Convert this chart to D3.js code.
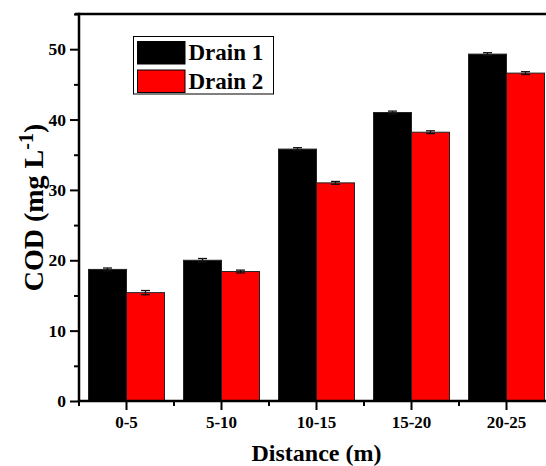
<!DOCTYPE html>
<html><head><meta charset="utf-8">
<script src="https://cdn.jsdelivr.net/npm/d3@7"></script>
<style>
html,body{margin:0;padding:0;background:#fff;overflow:hidden;}
text{font-family:"Liberation Serif","Times New Roman",serif;font-weight:bold;fill:#000;}
</style></head>
<body><svg id="c" width="546" height="466"></svg>
<script>
const categories = ["0-5","5-10","10-15","15-20","20-25"];
const seriesNames = ["Drain 1","Drain 2"];
const drain1 = [18.7, 20.0, 35.8, 41.0, 49.3];
const drain2 = [15.4, 18.4, 31.0, 38.2, 46.6];
const err1 = [0.2, 0.25, 0.2, 0.2, 0.2];
const err2 = [0.3, 0.2, 0.2, 0.2, 0.2];
const yMajorTicks = [0,10,20,30,40,50];
const yMinorTicks = [5,15,25,35,45,55];
const colors = ["#000000","#ff0000"];

const svg = d3.select("#c");
const L = 79, R = 554, T = 14, B = 401;
const x = d3.scaleBand().domain(categories).range([L,R]).paddingInner(0.2).paddingOuter(0.1);
const xs = d3.scaleBand().domain(seriesNames).range([0,x.bandwidth()]);
const y = d3.scaleLinear().domain([0,55]).range([B,T]);
const vals = [drain1, drain2], errs = [err1, err2];

const data = [];
categories.forEach((c,i)=>seriesNames.forEach((s,j)=>data.push({c,s,j,v:vals[j][i],e:errs[j][i]})));

svg.append("g").selectAll("rect").data(data).join("rect")
  .attr("x",d=>x(d.c)+xs(d.s)).attr("width",xs.bandwidth())
  .attr("y",d=>y(d.v)).attr("height",d=>B-y(d.v))
  .attr("fill",d=>colors[d.j]).attr("stroke","#222").attr("stroke-width",1);

const eg = svg.append("g").attr("stroke","#111").attr("stroke-width",1.3);
data.forEach(d=>{
  const cx = x(d.c)+xs(d.s)+xs.bandwidth()/2;
  eg.append("line").attr("x1",cx).attr("x2",cx).attr("y1",y(d.v+d.e)).attr("y2",y(d.v-d.e));
  [d.v+d.e,d.v-d.e].forEach(v=>eg.append("line").attr("x1",cx-4.5).attr("x2",cx+4.5).attr("y1",y(v)).attr("y2",y(v)));
});

// frame
svg.append("line").attr("x1",L-4).attr("x2",R).attr("y1",T).attr("y2",T).attr("stroke","#000").attr("stroke-width",2.5);

// y axis
const yAx = svg.append("g").attr("transform",`translate(${L},0)`)
  .call(d3.axisLeft(y).tickValues(yMajorTicks).tickSize(9).tickPadding(4).tickFormat(d3.format("d")));
yAx.select(".domain").remove();
yAx.selectAll(".tick line").attr("stroke-width",2);
yAx.selectAll("text").style("font-size","17.5px");
svg.append("g").attr("transform",`translate(${L},0)`)
  .call(d3.axisLeft(y).tickValues(yMinorTicks).tickSize(5).tickFormat(""))
  .call(g=>g.select(".domain").remove()).selectAll("line").attr("stroke-width",2);
svg.append("line").attr("x1",L).attr("x2",L).attr("y1",T-1.2).attr("y2",B+1).attr("stroke","#000").attr("stroke-width",2.5);

// x axis
const xAx = svg.append("g").attr("transform",`translate(0,${B})`)
  .call(d3.axisBottom(x).tickSize(9).tickPadding(6));
xAx.select(".domain").remove();
xAx.selectAll(".tick line").attr("stroke-width",2);
xAx.selectAll("text").style("font-size","17px");
const bounds = categories.map(c=>x(c)-x.step()*x.paddingInner()/2).concat([R]);
svg.append("g").selectAll("line").data(bounds).join("line")
  .attr("x1",d=>d).attr("x2",d=>d).attr("y1",B).attr("y2",B+5).attr("stroke","#000").attr("stroke-width",2);
svg.append("line").attr("x1",L-1.2).attr("x2",R).attr("y1",B).attr("y2",B).attr("stroke","#000").attr("stroke-width",2.5);

// axis titles
svg.append("text").attr("x",(L+R)/2).attr("y",460.5).attr("text-anchor","middle").style("font-size","24px").text("Distance (m)");
const yt = svg.append("text").attr("transform",`translate(43,${(T+B)/2}) rotate(-90)`).attr("text-anchor","middle").style("font-size","28px");
yt.append("tspan").text("COD (mg L");
yt.append("tspan").attr("dy",-10).style("font-size","20px").text("-1");
yt.append("tspan").attr("dy",10).text(")");

// legend
const lg = svg.append("g");
lg.append("rect").attr("x",133.5).attr("y",36.5).attr("width",140).attr("height",57.5).attr("fill","#fff").attr("stroke","#000").attr("stroke-width",1);
seriesNames.forEach((s,i)=>{
  lg.append("rect").attr("x",137.5).attr("y",41.5+i*28.5).attr("width",47.5).attr("height",22.5).attr("fill",colors[i]).attr("stroke","#000").attr("stroke-width",1);
  lg.append("text").attr("x",188.5).attr("y",60+i*28.5).style("font-size","23px").text(s);
});
</script></body></html>
